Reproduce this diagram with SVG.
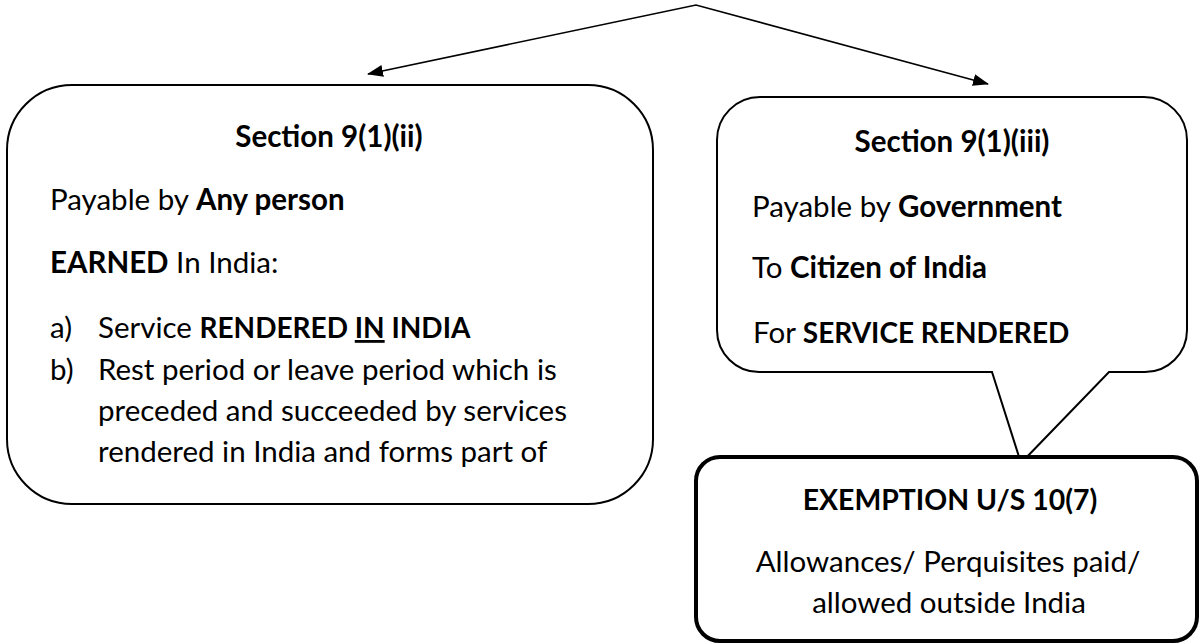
<svg xmlns="http://www.w3.org/2000/svg" width="1200" height="644" viewBox="0 0 1200 644">
  <style>
    .box { fill: #ffffff; stroke: #000000; stroke-width: 2; }
    .boxBold { fill: #ffffff; stroke: #000000; stroke-width: 4; }
    .link { fill: none; stroke: #000000; stroke-width: 1.6; }
    text { font-family: Lato, "Liberation Sans", sans-serif; font-size: 29.5px; fill: #000000; }
    .b { font-weight: bold; }
    .caps { font-size: 28px; }
    .c { text-anchor: middle; }
    .u { text-decoration: underline; }
  </style>
  <defs>
    <marker id="arrow" viewBox="0 0 16 12" refX="15" refY="6" markerWidth="16" markerHeight="12" markerUnits="userSpaceOnUse" orient="auto-start-reverse">
      <path d="M0,0 L16,6 L0,12 Z" fill="#000000"/>
    </marker>
  </defs>

  <!-- connectors: one line split into two arrows -->
  <g id="connectors">
    <polyline class="link" points="368,74 696,5 988,84" marker-start="url(#arrow)" marker-end="url(#arrow)"/>
  </g>

  <!-- Section 9(1)(ii) -->
  <g id="section-9-1-ii">
    <rect class="box" x="7" y="85" width="646" height="419" rx="65" ry="65"/>
    <text class="b c" x="329" y="147">Section 9(1)(ii)</text>
    <text x="50" y="210">Payable by <tspan class="b">Any person</tspan></text>
    <text x="50" y="273"><tspan class="b">EARNED</tspan> In India:</text>
    <text x="50" y="338">a)</text>
    <text x="98" y="338">Service <tspan class="b caps">RENDERED <tspan class="u">IN</tspan> INDIA</tspan></text>
    <text x="50" y="380">b)</text>
    <text x="98" y="380">Rest period or leave period which is</text>
    <text x="98" y="421">preceded and succeeded by services</text>
    <text x="98" y="462">rendered in India and forms part of</text>
  </g>

  <!-- Section 9(1)(iii) callout -->
  <g id="section-9-1-iii">
    <path class="box" d="M760,97 H1144 A43,43 0 0 1 1187,140 V330 A42,42 0 0 1 1145,372 H1109 L1021,463 L992,372 H759 A42,42 0 0 1 717,330 V140 A43,43 0 0 1 760,97 Z"/>
    <text class="b c" x="952" y="152">Section 9(1)(iii)</text>
    <text x="752" y="217">Payable by <tspan class="b">Government</tspan></text>
    <text x="752" y="278">To <tspan class="b">Citizen of India</tspan></text>
    <text x="753" y="343">For <tspan class="b caps">SERVICE RENDERED</tspan></text>
  </g>

  <!-- Exemption u/s 10(7) -->
  <g id="exemption-10-7">
    <rect class="boxBold" x="696" y="457" width="501" height="184" rx="24" ry="24"/>
    <text class="b c" x="950" y="510" style="font-size:28.4px">EXEMPTION U/S 10(7)</text>
    <text class="c" x="948" y="572">Allowances/ Perquisites paid/</text>
    <text class="c" x="949" y="613">allowed outside India</text>
  </g>
</svg>
